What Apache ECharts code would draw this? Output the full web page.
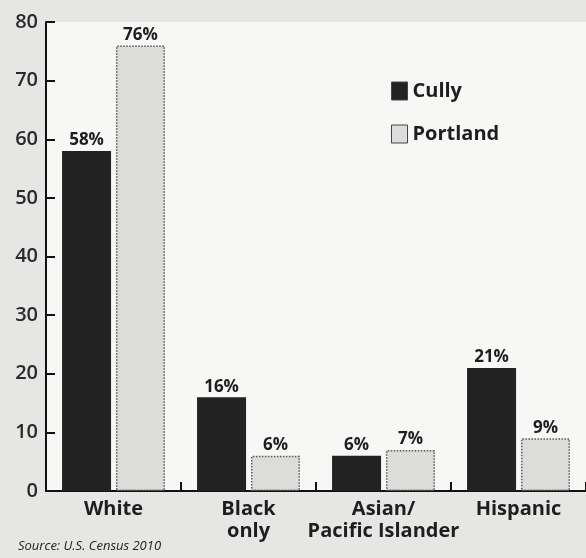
<!DOCTYPE html>
<html><head><meta charset="utf-8">
<script src="https://cdn.jsdelivr.net/npm/echarts@6/dist/echarts.min.js"></script>
<style>html,body{margin:0;padding:0;background:#e6e6e4;}#c{width:586px;height:558px;}</style>
</head><body><div id="c"></div>
<script>
const categories = ['White', 'Black\nonly', 'Asian/\nPacific Islander', 'Hispanic'];
const cully = [58, 16, 6, 21];
const portland = [76, 6, 7, 9];
const yTicks = [0, 10, 20, 30, 40, 50, 60, 70, 80];

const F = "'Open Sans', 'Noto Sans', sans-serif";
const chart = echarts.init(document.getElementById('c'));
chart.setOption({
  backgroundColor: '#e6e6e4',
  animation: false,
  textStyle: {fontFamily: F},
  grid: {left: 46, right: 0, top: 22, bottom: 67, show: true, backgroundColor: '#f7f7f6', borderWidth: 0},
  legend: {
    orient: 'vertical', left: 386, top: 76, itemWidth: 16, itemHeight: 18, itemGap: 23, icon: 'rect',
    textStyle: {fontFamily: F, fontWeight: 700, fontSize: 20, color: '#1e1e1e'},
    itemStyle: {borderColor: '#444', borderWidth: 1},
    data: ['Cully', 'Portland']
  },
  xAxis: {
    type: 'category', data: categories, boundaryGap: true,
    axisLine: {show: true, lineStyle: {color: '#111', width: 2}},
    axisTick: {show: true, inside: true, length: 9, interval: 0, alignWithLabel: false, lineStyle: {color: '#111', width: 2}},
    axisLabel: {interval: 0, fontFamily: F, fontWeight: 700, fontSize: 20, color: '#1e1e1e', lineHeight: 22, margin: 7}
  },
  yAxis: {
    type: 'value', min: 0, max: 80, interval: 10,
    axisLine: {show: true, lineStyle: {color: '#111', width: 2}},
    axisTick: {show: true, inside: true, length: 9, lineStyle: {color: '#111', width: 2}},
    splitLine: {show: false},
    axisLabel: {fontFamily: F, fontWeight: 600, fontSize: 20, color: '#2a2a2a', margin: 8,
      formatter: v => yTicks.includes(v) ? String(v) : ''}
  },
  series: [
    {name: 'Cully', type: 'bar', data: cully, barWidth: 49, barGap: '10%',
     itemStyle: {color: '#222222'},
     label: {show: true, position: 'top', formatter: '{c}%', fontFamily: F, fontWeight: 700, fontSize: 17, color: '#1e1e1e', distance: 2}},
    {name: 'Portland', type: 'bar', data: portland, barWidth: 49,
     itemStyle: {color: '#dcdcdb', borderColor: '#555', borderWidth: 1.5, borderType: 'dotted'},
     label: {show: true, position: 'top', formatter: '{c}%', fontFamily: F, fontWeight: 700, fontSize: 17, color: '#1e1e1e', distance: 2}}
  ],
  graphic: [{type: 'text', left: 18, top: 540, style: {text: 'Source: U.S. Census 2010', font: "italic 13px " + F, fill: '#222'}}]
});
</script></body></html>
